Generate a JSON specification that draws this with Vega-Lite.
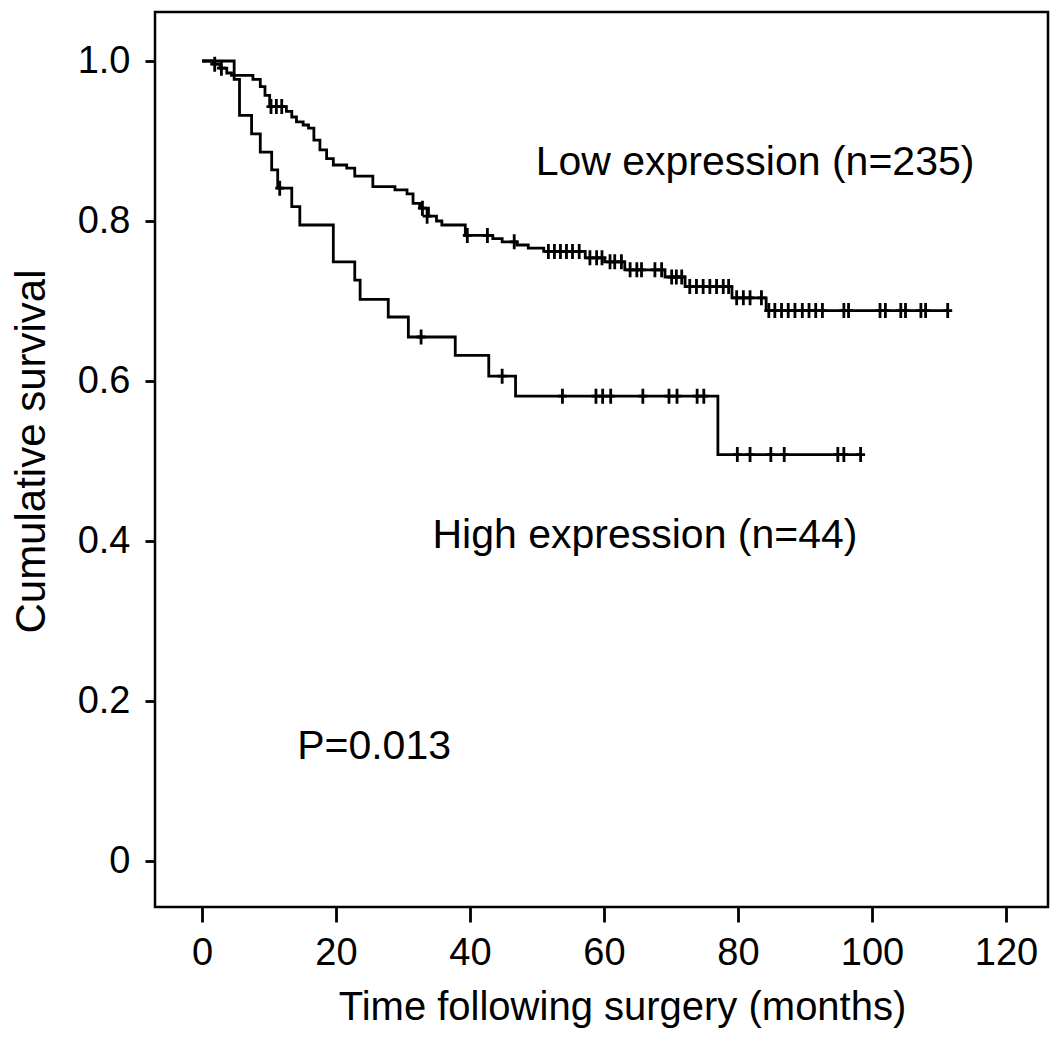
{
  "$schema": "https://vega.github.io/schema/vega-lite/v6.json",
  "width": 893,
  "height": 895,
  "autosize": {"type": "none"},
  "padding": {"left": 155, "top": 12, "right": 15, "bottom": 135},
  "background": "white",
  "config": {
    "view": {"stroke": "black", "strokeWidth": 2.5},
    "font": "Liberation Sans",
    "axis": {
      "domain": false,
      "grid": false,
      "tickColor": "black",
      "tickWidth": 2.8,
      "labelColor": "black",
      "labelFont": "Liberation Sans",
      "labelFontSize": 38,
      "titleColor": "black",
      "titleFont": "Liberation Sans",
      "titleFontSize": 40,
      "titleFontWeight": "normal"
    }
  },
  "datasets": {
    "steps": [
      {"group": "Low", "t": 0, "s": 1.0},
      {"group": "Low", "t": 1.7, "s": 0.996},
      {"group": "Low", "t": 2.7, "s": 0.991},
      {"group": "Low", "t": 3.7, "s": 0.985},
      {"group": "Low", "t": 4.4, "s": 0.982},
      {"group": "Low", "t": 7.6, "s": 0.977},
      {"group": "Low", "t": 8.7, "s": 0.968},
      {"group": "Low", "t": 9.4, "s": 0.957},
      {"group": "Low", "t": 10.1, "s": 0.943},
      {"group": "Low", "t": 12.6, "s": 0.937},
      {"group": "Low", "t": 13.4, "s": 0.930},
      {"group": "Low", "t": 14.1, "s": 0.924},
      {"group": "Low", "t": 15.1, "s": 0.920},
      {"group": "Low", "t": 15.9, "s": 0.916},
      {"group": "Low", "t": 16.7, "s": 0.901},
      {"group": "Low", "t": 17.6, "s": 0.889},
      {"group": "Low", "t": 18.6, "s": 0.878},
      {"group": "Low", "t": 19.6, "s": 0.870},
      {"group": "Low", "t": 21.6, "s": 0.866},
      {"group": "Low", "t": 22.8, "s": 0.856},
      {"group": "Low", "t": 25.5, "s": 0.843},
      {"group": "Low", "t": 28.8, "s": 0.839},
      {"group": "Low", "t": 30.6, "s": 0.834},
      {"group": "Low", "t": 31.5, "s": 0.822},
      {"group": "Low", "t": 32.5, "s": 0.816},
      {"group": "Low", "t": 33.8, "s": 0.806},
      {"group": "Low", "t": 35.0, "s": 0.800},
      {"group": "Low", "t": 35.8, "s": 0.795},
      {"group": "Low", "t": 39.3, "s": 0.782},
      {"group": "Low", "t": 43.4, "s": 0.778},
      {"group": "Low", "t": 44.8, "s": 0.774},
      {"group": "Low", "t": 47.0, "s": 0.770},
      {"group": "Low", "t": 48.7, "s": 0.766},
      {"group": "Low", "t": 51.0, "s": 0.762},
      {"group": "Low", "t": 57.2, "s": 0.754},
      {"group": "Low", "t": 60.1, "s": 0.749},
      {"group": "Low", "t": 63.1, "s": 0.739},
      {"group": "Low", "t": 69.1, "s": 0.730},
      {"group": "Low", "t": 72.1, "s": 0.718},
      {"group": "Low", "t": 79.1, "s": 0.704},
      {"group": "Low", "t": 84.2, "s": 0.688},
      {"group": "Low", "t": 111.4, "s": 0.688},
      {"group": "High", "t": 0, "s": 1.0},
      {"group": "High", "t": 4.8, "s": 0.977},
      {"group": "High", "t": 5.6, "s": 0.932},
      {"group": "High", "t": 7.4, "s": 0.909},
      {"group": "High", "t": 8.7, "s": 0.886},
      {"group": "High", "t": 10.4, "s": 0.864},
      {"group": "High", "t": 11.3, "s": 0.841},
      {"group": "High", "t": 13.4, "s": 0.818},
      {"group": "High", "t": 14.6, "s": 0.795},
      {"group": "High", "t": 19.6, "s": 0.749},
      {"group": "High", "t": 22.8, "s": 0.726},
      {"group": "High", "t": 23.6, "s": 0.702},
      {"group": "High", "t": 27.8, "s": 0.680},
      {"group": "High", "t": 30.8, "s": 0.655},
      {"group": "High", "t": 37.8, "s": 0.632},
      {"group": "High", "t": 42.8, "s": 0.606},
      {"group": "High", "t": 46.8, "s": 0.581},
      {"group": "High", "t": 77.0, "s": 0.508},
      {"group": "High", "t": 98.5, "s": 0.508}
    ],
    "censors": [
      {"group": "Low", "t": 1.9, "s": 0.996},
      {"group": "Low", "t": 2.9, "s": 0.991},
      {"group": "Low", "t": 10.3, "s": 0.943},
      {"group": "Low", "t": 11.1, "s": 0.943},
      {"group": "Low", "t": 11.9, "s": 0.943},
      {"group": "Low", "t": 32.9, "s": 0.816},
      {"group": "Low", "t": 33.6, "s": 0.806},
      {"group": "Low", "t": 39.6, "s": 0.782},
      {"group": "Low", "t": 42.6, "s": 0.782},
      {"group": "Low", "t": 46.6, "s": 0.774},
      {"group": "Low", "t": 51.7, "s": 0.762},
      {"group": "Low", "t": 52.6, "s": 0.762},
      {"group": "Low", "t": 53.5, "s": 0.762},
      {"group": "Low", "t": 54.4, "s": 0.762},
      {"group": "Low", "t": 55.3, "s": 0.762},
      {"group": "Low", "t": 56.3, "s": 0.762},
      {"group": "Low", "t": 57.9, "s": 0.754},
      {"group": "Low", "t": 58.9, "s": 0.754},
      {"group": "Low", "t": 59.7, "s": 0.754},
      {"group": "Low", "t": 60.9, "s": 0.749},
      {"group": "Low", "t": 61.6, "s": 0.749},
      {"group": "Low", "t": 62.6, "s": 0.749},
      {"group": "Low", "t": 63.9, "s": 0.739},
      {"group": "Low", "t": 64.9, "s": 0.739},
      {"group": "Low", "t": 65.6, "s": 0.739},
      {"group": "Low", "t": 67.6, "s": 0.739},
      {"group": "Low", "t": 68.6, "s": 0.739},
      {"group": "Low", "t": 70.1, "s": 0.730},
      {"group": "Low", "t": 70.8, "s": 0.730},
      {"group": "Low", "t": 71.6, "s": 0.730},
      {"group": "Low", "t": 72.8, "s": 0.718},
      {"group": "Low", "t": 73.8, "s": 0.718},
      {"group": "Low", "t": 74.8, "s": 0.718},
      {"group": "Low", "t": 75.8, "s": 0.718},
      {"group": "Low", "t": 76.8, "s": 0.718},
      {"group": "Low", "t": 77.8, "s": 0.718},
      {"group": "Low", "t": 78.6, "s": 0.718},
      {"group": "Low", "t": 79.8, "s": 0.704},
      {"group": "Low", "t": 80.8, "s": 0.704},
      {"group": "Low", "t": 81.8, "s": 0.704},
      {"group": "Low", "t": 83.5, "s": 0.704},
      {"group": "Low", "t": 84.6, "s": 0.688},
      {"group": "Low", "t": 85.5, "s": 0.688},
      {"group": "Low", "t": 86.5, "s": 0.688},
      {"group": "Low", "t": 87.5, "s": 0.688},
      {"group": "Low", "t": 88.5, "s": 0.688},
      {"group": "Low", "t": 89.6, "s": 0.688},
      {"group": "Low", "t": 90.6, "s": 0.688},
      {"group": "Low", "t": 91.6, "s": 0.688},
      {"group": "Low", "t": 92.6, "s": 0.688},
      {"group": "Low", "t": 95.8, "s": 0.688},
      {"group": "Low", "t": 96.5, "s": 0.688},
      {"group": "Low", "t": 101.2, "s": 0.688},
      {"group": "Low", "t": 102.0, "s": 0.688},
      {"group": "Low", "t": 104.3, "s": 0.688},
      {"group": "Low", "t": 105.0, "s": 0.688},
      {"group": "Low", "t": 107.3, "s": 0.688},
      {"group": "Low", "t": 108.0, "s": 0.688},
      {"group": "Low", "t": 111.3, "s": 0.688},
      {"group": "High", "t": 11.6, "s": 0.841},
      {"group": "High", "t": 32.7, "s": 0.655},
      {"group": "High", "t": 44.8, "s": 0.606},
      {"group": "High", "t": 53.8, "s": 0.581},
      {"group": "High", "t": 58.8, "s": 0.581},
      {"group": "High", "t": 59.8, "s": 0.581},
      {"group": "High", "t": 61.0, "s": 0.581},
      {"group": "High", "t": 65.8, "s": 0.581},
      {"group": "High", "t": 69.7, "s": 0.581},
      {"group": "High", "t": 70.9, "s": 0.581},
      {"group": "High", "t": 73.9, "s": 0.581},
      {"group": "High", "t": 74.9, "s": 0.581},
      {"group": "High", "t": 79.9, "s": 0.508},
      {"group": "High", "t": 81.8, "s": 0.508},
      {"group": "High", "t": 84.9, "s": 0.508},
      {"group": "High", "t": 86.9, "s": 0.508},
      {"group": "High", "t": 94.9, "s": 0.508},
      {"group": "High", "t": 95.8, "s": 0.508},
      {"group": "High", "t": 98.3, "s": 0.508}
    ],
    "notes": [
      {"t": 49.8, "s": 0.857, "label": "Low expression (n=235)"},
      {"t": 34.4, "s": 0.391, "label": "High expression (n=44)"},
      {"t": 14.2, "s": 0.127, "label": "P=0.013"}
    ]
  },
  "layer": [
    {
      "data": {"name": "steps"},
      "mark": {"type": "line", "interpolate": "step-after", "color": "black", "strokeWidth": 2.8},
      "encoding": {
        "x": {
          "field": "t",
          "type": "quantitative",
          "scale": {"domain": [-7.015, 126.27], "nice": false, "zero": false},
          "axis": {
            "title": "Time following surgery (months)",
            "values": [0, 20, 40, 60, 80, 100, 120],
            "tickSize": 15,
            "labelPadding": 12,
            "titlePadding": 15,
            "titleX": 467
          }
        },
        "y": {
          "field": "s",
          "type": "quantitative",
          "scale": {"domain": [-0.0575, 1.06125], "nice": false, "zero": false},
          "axis": {
            "title": "Cumulative survival",
            "values": [0, 0.2, 0.4, 0.6, 0.8, 1.0],
            "labelExpr": "datum.value == 0 ? '0' : format(datum.value, '.1f')",
            "tickSize": 10,
            "labelPadding": 15,
            "titlePadding": 24,
            "titleFontSize": 42,
            "titleY": 439
          }
        },
        "detail": {"field": "group", "type": "nominal"}
      }
    },
    {
      "data": {"name": "censors"},
      "mark": {
        "type": "point",
        "shape": "M0,-1V1M-0.6,0H0.6",
        "size": 225,
        "filled": false,
        "color": "black",
        "strokeWidth": 2.8,
        "opacity": 1
      },
      "encoding": {
        "x": {"field": "t", "type": "quantitative"},
        "y": {"field": "s", "type": "quantitative"}
      }
    },
    {
      "data": {"name": "notes"},
      "mark": {"type": "text", "align": "left", "baseline": "alphabetic", "fontSize": 41, "font": "Liberation Sans", "color": "black"},
      "encoding": {
        "x": {"field": "t", "type": "quantitative"},
        "y": {"field": "s", "type": "quantitative"},
        "text": {"field": "label", "type": "nominal"}
      }
    }
  ]
}
